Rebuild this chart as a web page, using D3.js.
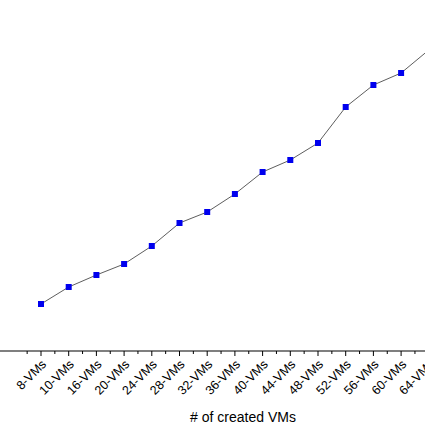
<!DOCTYPE html>
<html><head><meta charset="utf-8">
<script src="https://cdn.jsdelivr.net/npm/d3@7"></script>
<style>body{margin:0;background:#fff}svg{display:block}</style>
</head><body>
<svg id="chart" width="425" height="425"></svg>
<script>
// Categories and values
const categories = ["8-VMs","10-VMs","16-VMs","20-VMs","24-VMs","28-VMs","32-VMs","36-VMs","40-VMs","44-VMs","48-VMs","52-VMs","56-VMs","60-VMs","64-VMs"];
const values = [47, 64, 76, 87, 105, 128, 139, 157, 179, 191, 208, 244, 266, 278, 301];

const svg = d3.select("#chart");
const axisY = 351;

// point positions: first at 41, step ~27.7
const x = d3.scalePoint().domain(categories).range([41, 41 + 27.7 * (categories.length - 1)]);
const y = d3.scaleLinear().domain([0, 350]).range([axisY, 1]);

// axis line
svg.append("line").attr("x1", 0).attr("x2", 425).attr("y1", axisY).attr("y2", axisY)
  .attr("stroke", "#000").attr("stroke-width", 1.2);

// major ticks
svg.append("g").selectAll("line").data(categories).join("line")
  .attr("x1", d => x(d)).attr("x2", d => x(d))
  .attr("y1", axisY).attr("y2", axisY + 5).attr("stroke", "#000");

// minor ticks between
const minor = d3.range(-2, categories.length).map(i => 41 + 27.7 * (i + 0.5));
svg.append("g").selectAll("line").data(minor).join("line")
  .attr("x1", d => d).attr("x2", d => d)
  .attr("y1", axisY).attr("y2", axisY + 3).attr("stroke", "#000");

// rotated tick labels
svg.append("g").selectAll("text").data(categories).join("text")
  .attr("transform", d => `translate(${x(d) + 6},${axisY + 14}) rotate(-45)`)
  .attr("text-anchor", "end")
  .attr("font-family", "Liberation Sans, Arial, sans-serif")
  .attr("font-size", 12.5)
  .text(d => d);

// axis title
svg.append("text").attr("x", 243).attr("y", 422).attr("text-anchor", "middle")
  .attr("font-family", "Liberation Sans, Arial, sans-serif").attr("font-size", 14)
  .text("# of created VMs");

// line
const line = d3.line().x((d, i) => x(categories[i])).y(d => y(d));
svg.append("path").datum(values).attr("d", line)
  .attr("fill", "none").attr("stroke", "#333").attr("stroke-width", 0.8);

// square markers
svg.append("g").selectAll("rect").data(values).join("rect")
  .attr("x", (d, i) => x(categories[i]) - 3).attr("y", d => y(d) - 3)
  .attr("width", 6).attr("height", 6).attr("fill", "#0000ee");
</script>
</body></html>
